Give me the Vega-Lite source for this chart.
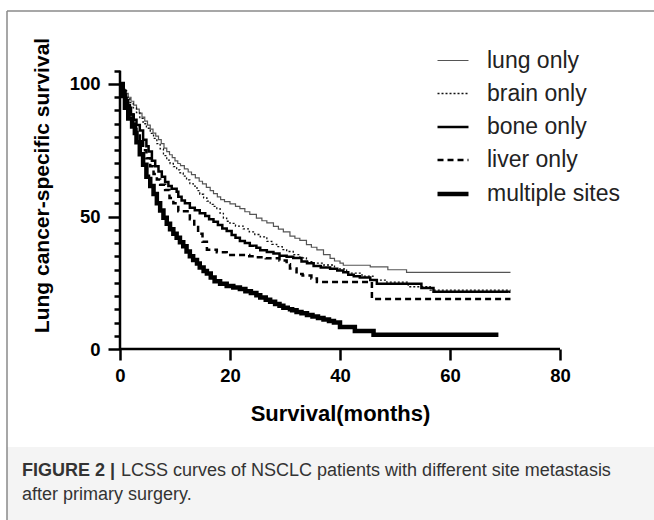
{
  "$schema": "https://vega.github.io/schema/vega-lite/v6.json",
  "width": 647,
  "height": 509,
  "autosize": {"type": "none"},
  "padding": {"left": 7, "top": 11, "right": 0, "bottom": 0},
  "background": "white",
  "config": {"view": {"stroke": null}, "font": "Liberation Sans"},
  "resolve": {"axis": {"x": "independent", "y": "independent"}},
  "datasets": {
    "km": [
      {"g":"lung only","t":0,"s":100},{"g":"lung only","t":0.5,"s":98},{"g":"lung only","t":1,"s":96.5},{"g":"lung only","t":1.5,"s":95},{"g":"lung only","t":2,"s":93.5},{"g":"lung only","t":2.5,"s":92},{"g":"lung only","t":3,"s":90.5},{"g":"lung only","t":3.5,"s":89},{"g":"lung only","t":4,"s":87.5},{"g":"lung only","t":4.5,"s":86},{"g":"lung only","t":5,"s":84.5},{"g":"lung only","t":5.5,"s":83},{"g":"lung only","t":6,"s":81.5},{"g":"lung only","t":6.5,"s":80.3},{"g":"lung only","t":7,"s":79},{"g":"lung only","t":7.5,"s":77.5},{"g":"lung only","t":8,"s":75.8},{"g":"lung only","t":8.5,"s":74.5},{"g":"lung only","t":9,"s":73.3},{"g":"lung only","t":9.5,"s":72.2},{"g":"lung only","t":10,"s":71},{"g":"lung only","t":10.5,"s":70},{"g":"lung only","t":11,"s":69.2},{"g":"lung only","t":11.7,"s":68},{"g":"lung only","t":12.4,"s":66.8},{"g":"lung only","t":13,"s":65.8},{"g":"lung only","t":13.7,"s":64.6},{"g":"lung only","t":14.4,"s":63.3},{"g":"lung only","t":15,"s":62.3},{"g":"lung only","t":15.7,"s":61},{"g":"lung only","t":16.4,"s":59.8},{"g":"lung only","t":17,"s":58.6},{"g":"lung only","t":17.7,"s":57.4},{"g":"lung only","t":18.3,"s":56.4},{"g":"lung only","t":19,"s":55.6},{"g":"lung only","t":20,"s":54.8},{"g":"lung only","t":21,"s":53.8},{"g":"lung only","t":21.8,"s":53},{"g":"lung only","t":22.7,"s":51.8},{"g":"lung only","t":23.6,"s":50.8},{"g":"lung only","t":24.8,"s":49.4},{"g":"lung only","t":25.8,"s":48.4},{"g":"lung only","t":26.7,"s":47.6},{"g":"lung only","t":27.9,"s":46.3},{"g":"lung only","t":28.8,"s":45.2},{"g":"lung only","t":29.7,"s":44.2},{"g":"lung only","t":30.9,"s":42.6},{"g":"lung only","t":31.8,"s":41.8},{"g":"lung only","t":32.7,"s":41},{"g":"lung only","t":33.9,"s":39.4},{"g":"lung only","t":34.8,"s":38.4},{"g":"lung only","t":35.8,"s":37.4},{"g":"lung only","t":37,"s":35.6},{"g":"lung only","t":38.2,"s":34.2},{"g":"lung only","t":39,"s":33.2},{"g":"lung only","t":40,"s":32.4},{"g":"lung only","t":40.6,"s":31.6},{"g":"lung only","t":45.5,"s":31},{"g":"lung only","t":48.7,"s":29.9},{"g":"lung only","t":52.1,"s":28.9},{"g":"lung only","t":71,"s":28.9},
      {"g":"brain only","t":0,"s":100},{"g":"brain only","t":0.6,"s":97.5},{"g":"brain only","t":1.2,"s":95},{"g":"brain only","t":1.8,"s":93},{"g":"brain only","t":2.4,"s":91},{"g":"brain only","t":3,"s":89.2},{"g":"brain only","t":3.6,"s":87},{"g":"brain only","t":4.2,"s":85},{"g":"brain only","t":4.8,"s":83.3},{"g":"brain only","t":5.5,"s":81.4},{"g":"brain only","t":6.1,"s":79.5},{"g":"brain only","t":6.7,"s":77.5},{"g":"brain only","t":7.3,"s":75.5},{"g":"brain only","t":7.9,"s":73},{"g":"brain only","t":8.5,"s":71.3},{"g":"brain only","t":9.1,"s":70},{"g":"brain only","t":9.7,"s":68.8},{"g":"brain only","t":10.3,"s":67.6},{"g":"brain only","t":10.9,"s":66.5},{"g":"brain only","t":11.5,"s":65.2},{"g":"brain only","t":12.1,"s":63.8},{"g":"brain only","t":12.7,"s":62.4},{"g":"brain only","t":13.3,"s":61.5},{"g":"brain only","t":14,"s":59.8},{"g":"brain only","t":14.5,"s":58.4},{"g":"brain only","t":15.2,"s":57},{"g":"brain only","t":15.8,"s":55.8},{"g":"brain only","t":16.4,"s":54.6},{"g":"brain only","t":17,"s":53.8},{"g":"brain only","t":17.6,"s":53},{"g":"brain only","t":18.2,"s":51.2},{"g":"brain only","t":18.8,"s":49.4},{"g":"brain only","t":19.4,"s":48.2},{"g":"brain only","t":20,"s":47.4},{"g":"brain only","t":21,"s":46.4},{"g":"brain only","t":22.4,"s":45.3},{"g":"brain only","t":23.5,"s":44.2},{"g":"brain only","t":24.5,"s":43.2},{"g":"brain only","t":25.5,"s":42.3},{"g":"brain only","t":26.7,"s":40.6},{"g":"brain only","t":27.6,"s":39.5},{"g":"brain only","t":28.5,"s":38.6},{"g":"brain only","t":29.5,"s":37.5},{"g":"brain only","t":30.3,"s":36.8},{"g":"brain only","t":31.5,"s":35.6},{"g":"brain only","t":32.7,"s":34.4},{"g":"brain only","t":33.9,"s":33},{"g":"brain only","t":35,"s":32.4},{"g":"brain only","t":37,"s":31.7},{"g":"brain only","t":39,"s":30.2},{"g":"brain only","t":41.2,"s":28.6},{"g":"brain only","t":44,"s":27.5},{"g":"brain only","t":46,"s":26},{"g":"brain only","t":48.5,"s":25.2},{"g":"brain only","t":52.4,"s":23.5},{"g":"brain only","t":56.4,"s":22.2},{"g":"brain only","t":71,"s":22.2},
      {"g":"bone only","t":0,"s":100},{"g":"bone only","t":0.5,"s":97.5},{"g":"bone only","t":1,"s":94},{"g":"bone only","t":1.5,"s":91},{"g":"bone only","t":2,"s":88.5},{"g":"bone only","t":2.5,"s":86.5},{"g":"bone only","t":3,"s":84.5},{"g":"bone only","t":3.6,"s":82.5},{"g":"bone only","t":4.2,"s":79},{"g":"bone only","t":4.8,"s":76.5},{"g":"bone only","t":5.2,"s":74.5},{"g":"bone only","t":5.8,"s":71},{"g":"bone only","t":6.4,"s":69},{"g":"bone only","t":7,"s":67},{"g":"bone only","t":7.6,"s":65},{"g":"bone only","t":8.2,"s":63},{"g":"bone only","t":8.8,"s":61.5},{"g":"bone only","t":9.4,"s":60.5},{"g":"bone only","t":10.3,"s":59.3},{"g":"bone only","t":10.6,"s":57.5},{"g":"bone only","t":11.2,"s":56},{"g":"bone only","t":11.8,"s":55},{"g":"bone only","t":12.7,"s":53.3},{"g":"bone only","t":13.6,"s":52.4},{"g":"bone only","t":14.5,"s":51.2},{"g":"bone only","t":15.5,"s":50.2},{"g":"bone only","t":16.2,"s":49},{"g":"bone only","t":17,"s":48},{"g":"bone only","t":17.8,"s":46.8},{"g":"bone only","t":18.6,"s":45.5},{"g":"bone only","t":19.4,"s":44.5},{"g":"bone only","t":20.3,"s":43},{"g":"bone only","t":21,"s":42},{"g":"bone only","t":21.8,"s":40.8},{"g":"bone only","t":22.7,"s":40},{"g":"bone only","t":23.6,"s":39},{"g":"bone only","t":24.8,"s":38.2},{"g":"bone only","t":25.5,"s":37.3},{"g":"bone only","t":26.7,"s":36.6},{"g":"bone only","t":27.9,"s":36},{"g":"bone only","t":29,"s":35.2},{"g":"bone only","t":30.3,"s":34.8},{"g":"bone only","t":31.5,"s":34.3},{"g":"bone only","t":33,"s":33},{"g":"bone only","t":34,"s":32.4},{"g":"bone only","t":35.2,"s":31.3},{"g":"bone only","t":36.5,"s":30.8},{"g":"bone only","t":38.2,"s":30.3},{"g":"bone only","t":39.5,"s":29.6},{"g":"bone only","t":40.6,"s":29},{"g":"bone only","t":41.5,"s":28},{"g":"bone only","t":42.5,"s":27.5},{"g":"bone only","t":43.6,"s":27},{"g":"bone only","t":45.5,"s":26},{"g":"bone only","t":46.7,"s":24.6},{"g":"bone only","t":54.8,"s":23},{"g":"bone only","t":57,"s":21.6},{"g":"bone only","t":71,"s":21.6},
      {"g":"liver only","t":0,"s":100},{"g":"liver only","t":0.6,"s":96},{"g":"liver only","t":1.2,"s":92},{"g":"liver only","t":1.8,"s":88.5},{"g":"liver only","t":2.4,"s":85},{"g":"liver only","t":3,"s":81.5},{"g":"liver only","t":3.6,"s":78},{"g":"liver only","t":4.2,"s":75},{"g":"liver only","t":4.8,"s":72},{"g":"liver only","t":5.5,"s":69},{"g":"liver only","t":6.1,"s":66},{"g":"liver only","t":6.7,"s":64},{"g":"liver only","t":7.3,"s":62},{"g":"liver only","t":8.2,"s":60},{"g":"liver only","t":9,"s":57},{"g":"liver only","t":9.7,"s":55},{"g":"liver only","t":10.6,"s":52},{"g":"liver only","t":12.7,"s":49},{"g":"liver only","t":13.5,"s":46},{"g":"liver only","t":14.2,"s":43.5},{"g":"liver only","t":15,"s":40.5},{"g":"liver only","t":15.8,"s":37.5},{"g":"liver only","t":17.6,"s":36.5},{"g":"liver only","t":19.4,"s":35.5},{"g":"liver only","t":23.5,"s":35},{"g":"liver only","t":24.8,"s":34.6},{"g":"liver only","t":26.5,"s":34.2},{"g":"liver only","t":29,"s":33.4},{"g":"liver only","t":30.3,"s":32},{"g":"liver only","t":30.9,"s":30.4},{"g":"liver only","t":32.1,"s":28.3},{"g":"liver only","t":33.2,"s":27.7},{"g":"liver only","t":34.8,"s":26.6},{"g":"liver only","t":35.8,"s":25.3},{"g":"liver only","t":45.8,"s":18.9},{"g":"liver only","t":71,"s":18.9},
      {"g":"multiple sites","t":0,"s":100},{"g":"multiple sites","t":0.5,"s":95.5},{"g":"multiple sites","t":0.9,"s":91},{"g":"multiple sites","t":1.5,"s":87},{"g":"multiple sites","t":2.2,"s":84},{"g":"multiple sites","t":2.7,"s":81.5},{"g":"multiple sites","t":3,"s":78},{"g":"multiple sites","t":3.6,"s":73.5},{"g":"multiple sites","t":4.2,"s":69.5},{"g":"multiple sites","t":4.8,"s":65},{"g":"multiple sites","t":5.5,"s":61.5},{"g":"multiple sites","t":6.1,"s":58.5},{"g":"multiple sites","t":6.7,"s":55},{"g":"multiple sites","t":7.3,"s":52.3},{"g":"multiple sites","t":7.9,"s":49.5},{"g":"multiple sites","t":8.5,"s":47.3},{"g":"multiple sites","t":9.1,"s":45.2},{"g":"multiple sites","t":9.7,"s":43.5},{"g":"multiple sites","t":10.3,"s":42},{"g":"multiple sites","t":10.9,"s":40.3},{"g":"multiple sites","t":11.5,"s":38.8},{"g":"multiple sites","t":12.1,"s":36.8},{"g":"multiple sites","t":12.7,"s":35},{"g":"multiple sites","t":13.3,"s":33.6},{"g":"multiple sites","t":14,"s":32.3},{"g":"multiple sites","t":14.5,"s":30.8},{"g":"multiple sites","t":15.2,"s":29.4},{"g":"multiple sites","t":15.8,"s":28.5},{"g":"multiple sites","t":16.5,"s":27},{"g":"multiple sites","t":17.2,"s":25.6},{"g":"multiple sites","t":18.2,"s":24.6},{"g":"multiple sites","t":19.4,"s":23.8},{"g":"multiple sites","t":20.6,"s":23.2},{"g":"multiple sites","t":21.8,"s":22.6},{"g":"multiple sites","t":22.8,"s":21.8},{"g":"multiple sites","t":23.8,"s":21.1},{"g":"multiple sites","t":24.8,"s":20.3},{"g":"multiple sites","t":25.5,"s":19.4},{"g":"multiple sites","t":26.5,"s":18.6},{"g":"multiple sites","t":27.3,"s":17.8},{"g":"multiple sites","t":28.2,"s":17},{"g":"multiple sites","t":29,"s":16.3},{"g":"multiple sites","t":29.7,"s":15.6},{"g":"multiple sites","t":30.5,"s":15},{"g":"multiple sites","t":31.3,"s":14.6},{"g":"multiple sites","t":32.1,"s":14},{"g":"multiple sites","t":33,"s":13.5},{"g":"multiple sites","t":34,"s":12.8},{"g":"multiple sites","t":35,"s":12.3},{"g":"multiple sites","t":36,"s":11.7},{"g":"multiple sites","t":37,"s":11.1},{"g":"multiple sites","t":38,"s":10.6},{"g":"multiple sites","t":38.9,"s":10},{"g":"multiple sites","t":40,"s":8.3},{"g":"multiple sites","t":42.7,"s":6.8},{"g":"multiple sites","t":46.1,"s":5.4},{"g":"multiple sites","t":68.8,"s":5.4}
    ]
  },
  "layer": [
    {
      "data": {"values": [{}]},
      "mark": {"type": "rect", "color": "#f4f4f4"},
      "encoding": {
        "x": {"datum": -20.545, "type": "quantitative", "scale": {"domain": [-20.545, 97.091], "nice": false, "zero": false}, "axis": null},
        "x2": {"datum": 97.091},
        "y": {"datum": -64.528, "type": "quantitative", "scale": {"domain": [-64.528, 127.547], "nice": false, "zero": false}, "axis": null},
        "y2": {"datum": -36.98}
      }
    },
    {
      "data": {"values": [{}]},
      "mark": {"type": "rule", "color": "#8a8a8a", "strokeWidth": 1.5},
      "encoding": {
        "x": {"datum": -20.545, "type": "quantitative", "scale": {"domain": [-20.545, 97.091], "nice": false, "zero": false}, "axis": null}
      }
    },
    {
      "data": {"values": [{}]},
      "mark": {"type": "rule", "color": "#8a8a8a", "strokeWidth": 1.5},
      "encoding": {
        "y": {"datum": 127.547, "type": "quantitative", "scale": {"domain": [-64.528, 127.547], "nice": false, "zero": false}, "axis": null}
      }
    },
    {
      "data": {"values": [{}]},
      "mark": {"type": "rule", "color": "#000000", "strokeWidth": 2.5},
      "encoding": {
        "x": {"datum": 0, "type": "quantitative", "scale": {"domain": [-20.545, 97.091], "nice": false, "zero": false}, "axis": null},
        "x2": {"datum": 80},
        "y": {"datum": 0, "type": "quantitative", "scale": {"domain": [-64.528, 127.547], "nice": false, "zero": false}, "axis": null}
      }
    },
    {
      "data": {"values": [{}]},
      "mark": {"type": "rule", "color": "#000000", "strokeWidth": 2.5},
      "encoding": {
        "x": {"datum": 0, "type": "quantitative", "scale": {"domain": [-20.545, 97.091], "nice": false, "zero": false}, "axis": null},
        "y": {"datum": 0, "type": "quantitative", "scale": {"domain": [-64.528, 127.547], "nice": false, "zero": false}, "axis": null},
        "y2": {"datum": 105}
      }
    },
    {
      "data": {"name": "km"},
      "mark": {"type": "line", "interpolate": "step-after", "strokeCap": "butt"},
      "encoding": {
        "x": {
          "field": "t", "type": "quantitative",
          "scale": {"domain": [-20.545, 97.091], "nice": false, "zero": false},
          "axis": {
            "values": [0, 20, 40, 60, 80], "domain": false, "grid": false, "offset": -171,
            "tickSize": 11, "tickWidth": 2.5, "tickColor": "#000000",
            "labelFont": "Liberation Sans", "labelFontWeight": "bold", "labelFontSize": 18.5, "labelColor": "#000000",
            "labelPadding": 6, "labelFlush": false, "labelOverlap": false,
            "title": "Survival(months)", "titleFont": "Liberation Sans", "titleFontSize": 22, "titleFontWeight": "bold", "titleColor": "#000000",
            "titleX": 333, "titleY": 64, "titleBaseline": "middle", "titleAlign": "center"
          }
        },
        "y": {
          "field": "s", "type": "quantitative",
          "scale": {"domain": [-64.528, 127.547], "nice": false, "zero": false},
          "axis": {
            "values": [0, 5, 10, 15, 20, 25, 30, 35, 40, 45, 50, 55, 60, 65, 70, 75, 80, 85, 90, 95, 100, 105],
            "domain": false, "grid": false, "offset": -113,
            "tickSize": {"condition": {"test": "datum.value % 50 === 0", "value": 12}, "value": 6},
            "tickWidth": 2.5, "tickColor": "#000000",
            "labelExpr": "datum.value % 50 === 0 ? datum.label : ''",
            "labelFont": "Liberation Sans", "labelFontWeight": "bold", "labelFontSize": 18.5, "labelColor": "#000000",
            "labelPadding": 8, "labelOverlap": false, "labelFlush": false,
            "title": "Lung cancer-specific survival", "titleFont": "Liberation Sans", "titleFontSize": 21, "titleFontWeight": "bold", "titleColor": "#000000",
            "titleX": -78, "titleY": 174, "titleBaseline": "middle", "titleAlign": "center", "titleAngle": -90
          }
        },
        "color": {
          "field": "g", "type": "nominal",
          "scale": {"domain": ["lung only", "brain only", "bone only", "liver only", "multiple sites"], "range": ["#555555", "#111111", "#000000", "#000000", "#000000"]},
          "legend": {"orient": "none", "legendX": 428, "legendY": 33, "title": null, "symbolType": "stroke", "symbolSize": 960, "labelFont": "Liberation Sans", "labelFontSize": 23, "labelColor": "#222222", "labelOffset": 16, "rowPadding": 4}
        },
        "strokeDash": {
          "field": "g", "type": "nominal",
          "scale": {"domain": ["lung only", "brain only", "bone only", "liver only", "multiple sites"], "range": [[1, 0], [2, 2], [1, 0], [6, 4], [1, 0]]},
          "legend": {"orient": "none", "legendX": 428, "legendY": 33, "title": null, "symbolType": "stroke", "symbolSize": 960, "labelFont": "Liberation Sans", "labelFontSize": 23, "labelColor": "#222222", "labelOffset": 16, "rowPadding": 4}
        },
        "strokeWidth": {
          "field": "g", "type": "nominal",
          "scale": {"type": "ordinal", "domain": ["lung only", "brain only", "bone only", "liver only", "multiple sites"], "range": [1.2, 1.3, 2.5, 2.5, 4.5]},
          "legend": {"orient": "none", "legendX": 428, "legendY": 33, "title": null, "symbolType": "stroke", "symbolSize": 960, "labelFont": "Liberation Sans", "labelFontSize": 23, "labelColor": "#222222", "labelOffset": 16, "rowPadding": 4}
        }
      }
    },
    {
      "data": {"values": [{"txt": "FIGURE 2 |"}]},
      "mark": {"type": "text", "align": "left", "baseline": "middle", "font": "Liberation Sans", "fontSize": 18, "fontWeight": "bold", "color": "#333333"},
      "encoding": {
        "x": {"datum": -17.818, "type": "quantitative", "scale": {"domain": [-20.545, 97.091], "nice": false, "zero": false}, "axis": null},
        "y": {"datum": -46.04, "type": "quantitative", "scale": {"domain": [-64.528, 127.547], "nice": false, "zero": false}, "axis": null},
        "text": {"field": "txt"}
      }
    },
    {
      "data": {"values": [{"txt": "LCSS curves of NSCLC patients with different site metastasis"}]},
      "mark": {"type": "text", "align": "left", "baseline": "middle", "font": "Liberation Sans", "fontSize": 18, "color": "#333333", "dx": 99},
      "encoding": {
        "x": {"datum": -17.818, "type": "quantitative", "scale": {"domain": [-20.545, 97.091], "nice": false, "zero": false}, "axis": null},
        "y": {"datum": -46.04, "type": "quantitative", "scale": {"domain": [-64.528, 127.547], "nice": false, "zero": false}, "axis": null},
        "text": {"field": "txt"}
      }
    },
    {
      "data": {"values": [{"txt": "after primary surgery."}]},
      "mark": {"type": "text", "align": "left", "baseline": "middle", "font": "Liberation Sans", "fontSize": 18, "color": "#333333"},
      "encoding": {
        "x": {"datum": -17.818, "type": "quantitative", "scale": {"domain": [-20.545, 97.091], "nice": false, "zero": false}, "axis": null},
        "y": {"datum": -55.09, "type": "quantitative", "scale": {"domain": [-64.528, 127.547], "nice": false, "zero": false}, "axis": null},
        "text": {"field": "txt"}
      }
    }
  ]
}
